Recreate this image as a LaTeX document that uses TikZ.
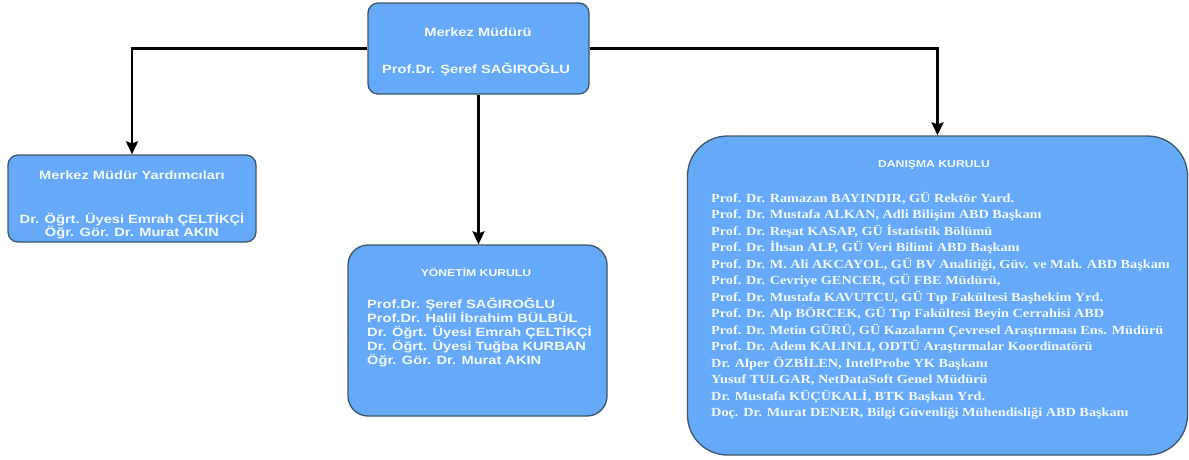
\documentclass[tikz,border=0pt]{standalone}
\usepackage{fontspec}
\setmainfont{Liberation Serif}
\setsansfont{Liberation Sans}
\newfontfamily\wsans{Liberation Sans}[FakeStretch=1.22]
\newfontfamily\wserif{Liberation Serif}[FakeStretch=1.15]
\usetikzlibrary{arrows.meta}
\definecolor{boxblue}{HTML}{64AAF8}
\definecolor{boxedge}{HTML}{3F5468}
\definecolor{txt}{HTML}{F4F8FF}
\begin{document}
\begin{tikzpicture}[x=1pt,y=-1pt,
  box/.style={draw=boxedge, line width=1.3pt, fill=boxblue, inner sep=0pt, shape=rectangle},
  conn/.style={line width=2.4pt, draw=black, -{Stealth[length=13pt,width=12pt,inset=2pt]}},
  stxt/.style={text=txt, font=\wsans\bfseries\fontsize{12}{14}\selectfont, inner sep=0pt},
  ttl/.style={text=txt, inner sep=0pt, font=\wsans\bfseries\fontsize{10}{13}\selectfont},
  rtxt/.style={text=txt, font=\wserif\bfseries\fontsize{12.4}{15}\selectfont, inner sep=0pt}]
\useasboundingbox (0,0) rectangle (1189,459);
% boxes
\node[box, rounded corners=10pt, minimum width=221pt, minimum height=91pt] (top) at (478.5,48.5) {};
\node[box, rounded corners=10pt, minimum width=248pt, minimum height=87pt] (left) at (132,198.5) {};
\node[box, rounded corners=20pt, minimum width=259pt, minimum height=171pt] (mid) at (477.5,330.5) {};
\node[box, rounded corners=40pt, minimum width=500pt, minimum height=319pt] (right) at (937.5,295.5) {};
% connectors
\draw[conn] (top.west) -| (left.north);
\draw[conn] (top.east) -| (right.north);
\draw[conn] (top.south) -- (top.south |- mid.north);
% top texts
\node[stxt, anchor=base] (t1) at (478,36.5) {Merkez Müdürü};
\node[stxt, anchor=base] (t2) at (476,73) {Prof.Dr. Şeref SAĞIROĞLU};
% left texts
\node[stxt, anchor=base] (l1) at (132,179.5) {Merkez Müdür Yardımcıları};
\node[stxt, anchor=base] (l2) at (132,223.5) {Dr. Öğrt. Üyesi Emrah ÇELTİKÇİ};
\node[stxt, anchor=base] (l3) at (132,236.5) {Öğr. Gör. Dr. Murat AKIN};
% middle texts
\node[ttl, anchor=base] (m0) at (476,276) {YÖNETİM KURULU};
\foreach \t [count=\i] in {{Prof.Dr. Şeref SAĞIROĞLU},{Prof.Dr. Halil İbrahim BÜLBÜL},{Dr. Öğrt. Üyesi Emrah ÇELTİKÇİ},{Dr. Öğrt. Üyesi Tuğba KURBAN},{Öğr. Gör. Dr. Murat AKIN}}
  \node[stxt, anchor=base west] (m\i) at (367,{308.5+14*(\i-1)}) {\t};
% right texts
\node[ttl, anchor=base] (r0) at (934,167) {DANIŞMA KURULU};
\foreach \t [count=\i] in {{Prof. Dr. Ramazan BAYINDIR, GÜ Rektör Yard.},{Prof. Dr. Mustafa ALKAN, Adli Bilişim ABD Başkanı},{Prof. Dr. Reşat KASAP, GÜ İstatistik Bölümü},{Prof. Dr. İhsan ALP, GÜ Veri Bilimi ABD Başkanı},{Prof. Dr. M. Ali AKCAYOL, GÜ BV Analitiği, Güv. ve Mah. ABD Başkanı},{Prof. Dr. Cevriye GENCER, GÜ FBE Müdürü,},{Prof. Dr. Mustafa KAVUTCU, GÜ Tıp Fakültesi Başhekim Yrd.},{Prof. Dr. Alp BÖRCEK, GÜ Tıp Fakültesi Beyin Cerrahisi ABD},{Prof. Dr. Metin GÜRÜ, GÜ Kazaların Çevresel Araştırması Ens. Müdürü},{Prof. Dr. Adem KALINLI, ODTÜ Araştırmalar Koordinatörü},{Dr. Alper ÖZBİLEN, IntelProbe YK Başkanı},{Yusuf TULGAR, NetDataSoft Genel Müdürü},{Dr. Mustafa KÜÇÜKALİ, BTK Başkan Yrd.},{Doç. Dr. Murat DENER, Bilgi Güvenliği Mühendisliği ABD Başkanı}}
  \node[rtxt, anchor=base west] (r\i) at (711,{202+16.5*(\i-1)}) {\t};
\end{tikzpicture}
\end{document}
